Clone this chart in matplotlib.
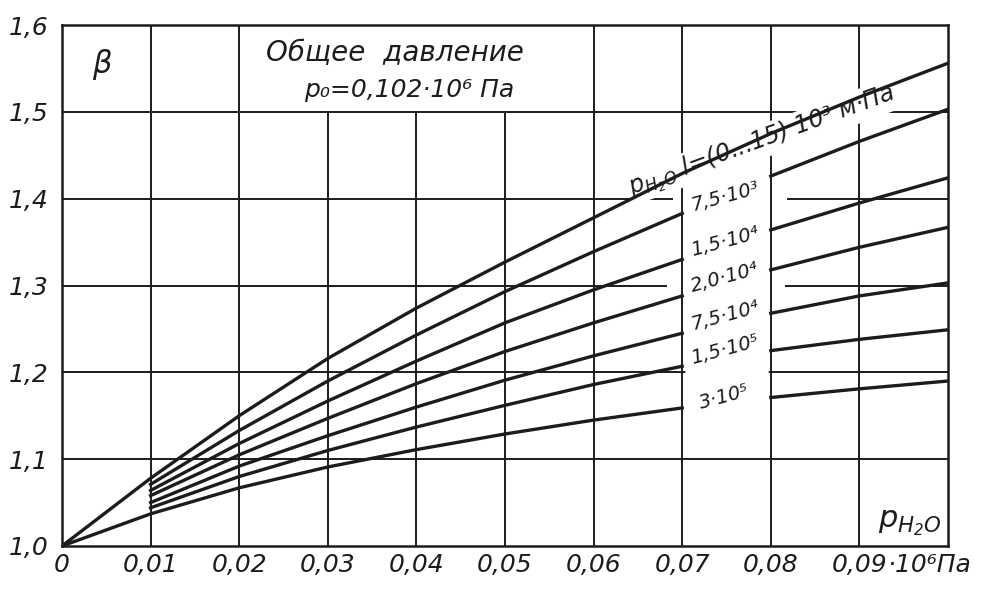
import numpy as np
import matplotlib.pyplot as plt

plt.rcParams['font.family'] = ['DejaVu Sans']
plt.rcParams['mathtext.fontset'] = 'custom'
plt.rcParams['mathtext.it'] = 'DejaVu Sans:italic'
plt.rcParams['mathtext.rm'] = 'DejaVu Sans:italic'

# ---- данные ----
# парциальное давление водяного пара, *10^6 Па
p_h2o = [0, 0.01, 0.02, 0.03, 0.04, 0.05, 0.06, 0.07, 0.08, 0.09, 0.10]

# beta для разных p_H2O*l; кривые 7,5e3 ... 1,5e5 начинаются с 0,01
beta_0_15e3 = [1.0, 1.078, 1.150, 1.216, 1.274, 1.327, 1.378, 1.429, 1.475, 1.517, 1.556]
beta_7_5e3 = [1.071, 1.133, 1.190, 1.243, 1.293, 1.339, 1.383, 1.426, 1.466, 1.503]
beta_1_5e4 = [1.064, 1.118, 1.167, 1.213, 1.257, 1.295, 1.330, 1.364, 1.395, 1.424]
beta_2_0e4 = [1.058, 1.105, 1.147, 1.187, 1.224, 1.257, 1.288, 1.318, 1.344, 1.367]
beta_7_5e4 = [1.050, 1.092, 1.127, 1.160, 1.191, 1.219, 1.245, 1.268, 1.288, 1.303]
beta_1_5e5 = [1.044, 1.080, 1.110, 1.137, 1.162, 1.186, 1.207, 1.225, 1.238, 1.249]
beta_3e5 = [1.0, 1.037, 1.067, 1.091, 1.111, 1.129, 1.145, 1.159, 1.171, 1.181, 1.190]

curve_labels = ['7,5·10³', '1,5·10⁴', '2,0·10⁴', '7,5·10⁴', '1,5·10⁵', '3·10⁵']

x_ticks = [0, 0.01, 0.02, 0.03, 0.04, 0.05, 0.06, 0.07, 0.08, 0.09]
x_ticklabels = ['0', '0,01', '0,02', '0,03', '0,04', '0,05', '0,06', '0,07', '0,08', '0,09']
y_ticks = [1.0, 1.1, 1.2, 1.3, 1.4, 1.5, 1.6]
y_ticklabels = ['1,0', '1,1', '1,2', '1,3', '1,4', '1,5', '1,6']

# ---- рисунок ----
ink = '#1c1c1c'
fig = plt.figure(figsize=(9.87, 5.94), dpi=100)
ax = fig.add_axes([62/987, 48/594, 886/987, 521/594])
ax.set_xlim(0, 0.10)
ax.set_ylim(1.0, 1.6)

# сетка: горизонтальные линии (с разрывами под подписи)
hgaps = {1.3: (0.0683, 0.0816), 1.4: (0.0690, 0.0818)}
for yv in y_ticks[1:-1]:
    if yv in hgaps:
        g0, g1 = hgaps[yv]
        ax.hlines([yv, yv], [0, g1], [g0, 0.10], color=ink, lw=1.4, zorder=1)
    else:
        ax.hlines(yv, 0, 0.10, color=ink, lw=1.4, zorder=1)

# белая колонка для подписей кривых
ax.fill_between([0.0703, 0.0797], 1.135, [beta_0_15e3[7], beta_0_15e3[8]],
                color='white', lw=0, zorder=1.5)

# вертикальные линии; в верхнем ряду под надписью их нет
for xv in x_ticks[1:]:
    ytop = 1.5 if 0.025 < xv < 0.055 else 1.6
    ax.vlines(xv, 1.0, ytop, color=ink, lw=1.4, zorder=2.5)

# кривые
ax.plot(p_h2o, beta_0_15e3, color=ink, lw=2.4, zorder=6)
x1 = p_h2o[1:]
for ys in [beta_7_5e3, beta_1_5e4, beta_2_0e4, beta_7_5e4, beta_1_5e5]:
    ax.plot(x1[:7], ys[:7], color=ink, lw=2.4, zorder=4)
    ax.plot(x1[7:], ys[7:], color=ink, lw=2.4, zorder=4)
ax.plot(p_h2o[:8], beta_3e5[:8], color=ink, lw=2.4, zorder=4)
ax.plot(p_h2o[8:], beta_3e5[8:], color=ink, lw=2.4, zorder=4)

# подписи кривых
label_y = [1.402, 1.350, 1.309, 1.265, 1.226, 1.172]
for txt, yl in zip(curve_labels, label_y):
    ax.text(0.0748, yl, txt, fontsize=14, style='italic', rotation=15,
            rotation_mode='anchor', ha='center', va='center', color=ink, zorder=3)

ax.text(0.0643, 1.404, r'$p_{H_2O}$ $l$=(0...15) 10³ м·Па', fontsize=17,
        style='italic', rotation=20, rotation_mode='anchor', ha='left',
        va='baseline', color=ink, zorder=5,
        bbox=dict(facecolor='white', edgecolor='none', pad=1))

# надписи
ax.text(0.0045, 1.554, 'β', fontsize=22, style='italic', ha='center',
        va='center', color=ink)
ax.text(0.0376, 1.568, 'Общее  давление', fontsize=20, style='italic',
        ha='center', va='center', color=ink)
ax.text(0.0392, 1.525, 'p₀=0,102·10⁶ Па', fontsize=18, style='italic',
        ha='center', va='center', color=ink)
ax.text(0.0957, 1.026, r'$p_{H_2O}$', fontsize=22, ha='center', va='center',
        color=ink)

# оси
ax.set_xticks(x_ticks)
ax.set_xticklabels(x_ticklabels)
ax.set_yticks(y_ticks)
ax.set_yticklabels(y_ticklabels)
ax.tick_params(axis='both', length=0, labelsize=18, colors=ink)
ax.tick_params(axis='x', pad=5)
ax.tick_params(axis='y', pad=10)
for lab in ax.get_xticklabels() + ax.get_yticklabels():
    lab.set_fontstyle('italic')
ax.text(0.0931, -0.0134, '·10⁶Па', transform=ax.get_xaxis_transform(),
        fontsize=18, style='italic', ha='left', va='top', color=ink)

for sp in ax.spines.values():
    sp.set_color(ink)
    sp.set_linewidth(1.8)

fig.savefig('out.png', dpi=100)
